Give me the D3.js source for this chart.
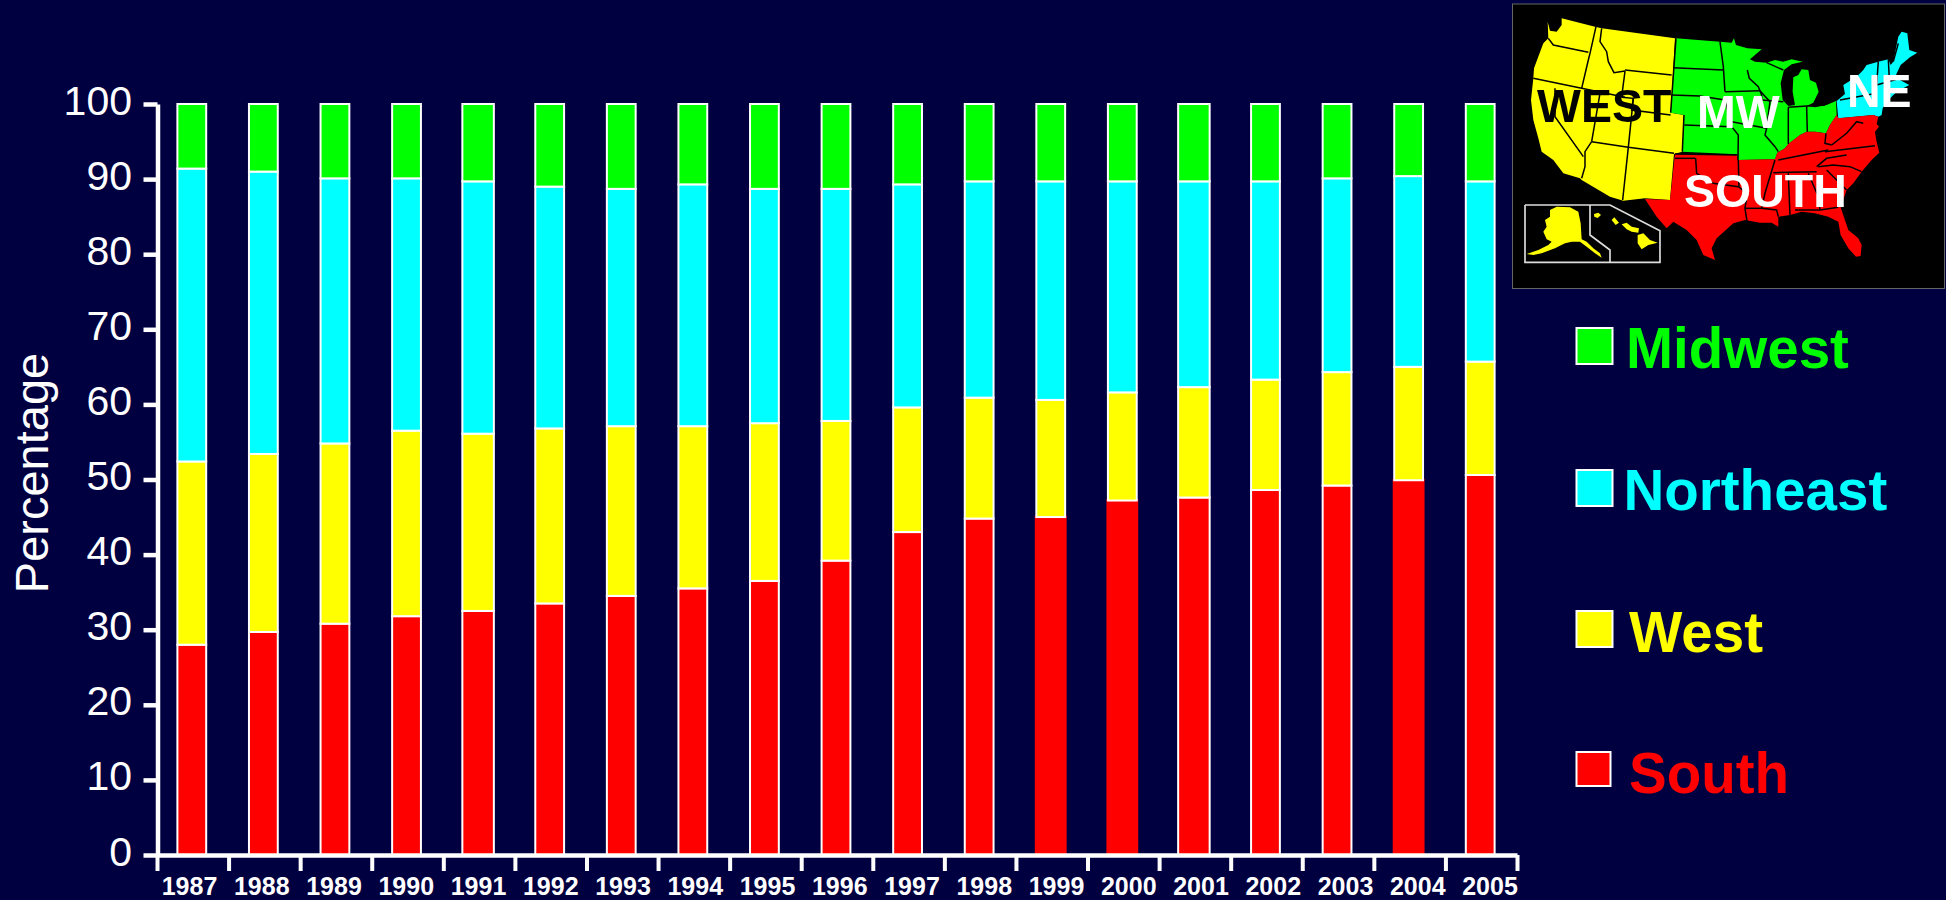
<!DOCTYPE html>
<html>
<head>
<meta charset="utf-8">
<style>
  body { margin: 0; background: #000040; }
  svg { display: block; }
  text { font-family: "Liberation Sans", Arial, sans-serif; }
</style>
<script src="https://cdnjs.cloudflare.com/ajax/libs/d3/7.8.5/d3.min.js"></script>
</head>
<body>
<div id="chart"></div>
<script>
// Values, percent per region
const years = ['1987','1988','1989','1990','1991','1992','1993','1994','1995','1996','1997','1998','1999','2000','2001','2002','2003','2004','2005'];
const south = [28.0,29.7,30.8,31.8,32.5,33.5,34.5,35.5,36.5,39.2,43.0,44.8,45.0,47.2,47.6,48.6,49.2,49.9,50.6];
const west = [24.4,23.7,24.0,24.7,23.6,23.3,22.6,21.6,21.0,18.6,16.6,16.1,15.6,14.4,14.7,14.7,15.1,15.1,15.1];
const northeast = [39.0,37.6,35.3,33.6,33.6,32.2,31.6,32.2,31.2,30.9,29.7,28.8,29.1,28.1,27.4,26.4,25.8,25.4,24.0];
const midwest = [8.6,9.0,9.9,9.9,10.3,11.0,11.3,10.7,11.3,11.3,10.7,10.3,10.3,10.3,10.3,10.3,9.9,9.6,10.3];
const yTicks = [0,10,20,30,40,50,60,70,80,90,100];

const seriesNames = ['South','West','Northeast','Midwest'];
const seriesColors = { South: '#ff0000', West: '#ffff00', Northeast: '#00ffff', Midwest: '#00ff00' };

// Oddities of the original slide
const noOutlineSouth = ['1999','2000','2004'];
const wideBars = ['1991','2001'];

// Map outlines (units are 1/3 px)
const mapWest = [[143,65],[150,92],[170,95],[185,75],[185,55],[285,80],[305,85],[525,115],[515,290],[512,338],[552,345],[547,455],[522,462],[510,600],[435,595],[370,602],[330,590],[245,540],[240,535],[190,520],[160,480],[125,455],[115,415],[100,360],[93,300],[100,235],[102,205],[130,130],[145,115]];
const mapMidwest = [[528,115],[660,125],[695,128],[702,115],[708,135],[742,145],[785,148],[750,178],[765,185],[800,188],[825,180],[850,185],[875,178],[908,185],[875,193],[852,210],[842,250],[848,300],[865,318],[885,315],[878,275],[880,232],[895,225],[905,208],[925,210],[930,240],[948,248],[956,275],[940,308],[920,318],[945,322],[980,315],[1008,303],[1010,345],[990,375],[978,400],[945,395],[920,395],[900,405],[865,432],[855,445],[832,458],[825,478],[714,480],[712,463],[547,455],[552,345],[512,338],[515,290]];
const mapNortheast = [[1195,110],[1205,95],[1222,100],[1228,150],[1252,158],[1230,172],[1202,195],[1188,225],[1200,240],[1228,255],[1190,275],[1160,305],[1148,325],[1145,345],[1135,350],[1120,345],[1015,355],[1010,303],[1035,282],[1030,255],[1070,230],[1090,210],[1100,195],[1135,185],[1165,178],[1172,195],[1180,185]];
const mapSouth = [[525,462],[712,465],[714,480],[825,478],[832,458],[855,445],[865,432],[900,405],[920,395],[945,395],[978,400],[990,375],[1010,345],[1015,355],[1120,345],[1135,350],[1130,372],[1137,380],[1125,395],[1130,425],[1138,458],[1115,480],[1085,515],[1060,550],[1040,570],[1022,622],[1045,690],[1075,715],[1085,735],[1082,768],[1068,770],[1045,745],[1022,705],[1015,665],[985,650],[945,640],[905,635],[870,645],[835,650],[835,680],[815,668],[780,668],[735,660],[700,670],[650,715],[635,745],[645,780],[610,765],[590,720],[560,690],[520,665],[500,685],[470,650],[435,597],[510,600]];
const mapAlaska = [[170,620],[210,622],[235,635],[242,670],[245,718],[260,725],[280,745],[300,760],[305,773],[285,760],[260,740],[240,725],[215,725],[195,730],[165,745],[125,760],[100,765],[80,762],[115,750],[145,735],[155,725],[140,718],[130,695],[140,680],[135,660],[150,650],[150,630]];
const mapHawaii = [
  [[282,642],[295,638],[303,645],[293,654],[283,650]],
  [[335,660],[343,652],[357,668],[347,675]],
  [[365,673],[380,668],[395,680],[417,685],[415,698],[395,695],[380,688]],
  [[413,705],[430,700],[450,720],[473,728],[445,735],[425,748],[413,730]]
];
const stateLines = [
  // west
  [[145,115],[160,135],[265,157]], [[288,80],[270,160],[265,180],[245,265]], [[100,235],[245,265],[375,292]],
  [[305,85],[300,125],[320,155],[325,185],[342,218],[375,213]], [[375,210],[515,225]], [[375,213],[365,292]],
  [[365,292],[400,295],[395,330],[512,345]], [[300,280],[275,425]], [[165,265],[165,350],[250,470]],
  [[275,425],[255,455],[255,500],[245,535]], [[275,425],[385,442],[522,460]], [[400,295],[385,442]], [[385,442],[368,600]],
  // midwest
  [[660,125],[670,200],[675,275]], [[520,203],[670,210]], [[515,285],[600,288],[675,300]], [[675,275],[780,272]],
  [[742,210],[748,235],[775,260],[785,285],[785,300]], [[695,365],[800,385]], [[780,272],[810,305],[800,385]],
  [[553,375],[695,380]], [[675,300],[695,380]], [[695,380],[715,405],[714,480]], [[800,385],[795,405],[825,440],[835,455]],
  [[785,300],[850,305]], [[865,322],[865,405],[865,432]], [[920,318],[922,395]], [[865,322],[920,318]], [[920,318],[975,315]],
  [[800,188],[850,210]], [[525,462],[712,465]], [[552,345],[547,455]], [[528,115],[512,338]],
  // northeast
  [[1180,185],[1195,130]], [[1165,178],[1168,235]], [[1135,185],[1130,255]], [[1130,255],[1190,238]], [[1020,300],[1130,280]],
  // south
  [[587,475],[590,520],[640,550],[715,560],[742,580]], [[525,475],[587,475]], [[715,480],[717,560]], [[742,580],[735,625],[742,670]],
  [[825,480],[795,580],[785,625]], [[735,625],[785,625]], [[785,625],[830,630],[835,650]], [[835,480],[985,450]], [[820,518],[950,515]],
  [[950,500],[980,475],[1040,465]], [[975,455],[1125,437]], [[978,400],[975,430],[995,435]], [[995,435],[1040,400],[1070,365],[1090,370]],
  [[865,520],[870,645]], [[925,520],[955,590],[960,630]], [[885,630],[960,630],[1015,622]], [[980,510],[1040,570]], [[955,500],[1000,495],[1050,500],[1085,515]]
];
const insetFrame = [[75,615],[330,615],[480,692],[480,787],[75,787],[75,615]];
const insetDivider = [[270,615],[270,705],[330,750],[330,787]];
const mapLabels = [
  { text: 'WEST', x: 1537, y: 122, color: '#000' },
  { text: 'MW', x: 1697, y: 128, color: '#fff' },
  { text: 'NE', x: 1847, y: 107, color: '#fff' },
  { text: 'SOUTH', x: 1684, y: 207, color: '#fff' }
];

const width = 1946, height = 900;
const svg = d3.select('#chart').append('svg').attr('width', width).attr('height', height);

// The map in the original is a small scaled bitmap, so soften it a little
svg.append('defs').append('filter')
  .attr('id', 'soft')
  .append('feGaussianBlur')
  .attr('stdDeviation', 0.5);

// Scales
const x = d3.scaleBand().domain(years).range([157, 1517]);
const xEdges = d3.scaleLinear().domain([0, years.length]).range([157, 1517]);
const xLabels = d3.scalePoint().domain(years).range([189, 1489.5]);
const y = d3.scaleLinear().domain([0, 100]).range([855, 104]);

// Stacked bars
const table = years.map((year, i) => ({
  year, South: south[i], West: west[i], Northeast: northeast[i], Midwest: midwest[i]
}));
const stacked = d3.stack().keys(seriesNames)(table);

const barWidth = (d) => (wideBars.includes(d.data.year) ? 31.5 : 28.8);

svg.selectAll('.series')
  .data(stacked)
  .enter()
  .append('g')
  .attr('class', 'series')
  .attr('fill', (s) => seriesColors[s.key])
  .each(function (s) {
    d3.select(this).selectAll('rect')
      .data(s)
      .enter()
      .append('rect')
      .attr('x', (d) => x(d.data.year) + x.bandwidth() / 2 - 1 - barWidth(d) / 2)
      .attr('width', barWidth)
      .attr('y', (d) => y(d[1]))
      .attr('height', (d) => y(d[0]) - y(d[1]))
      .attr('stroke', (d) => (s.key === 'South' && noOutlineSouth.includes(d.data.year) ? '#ff0000' : '#fff'))
      .attr('stroke-width', (d) => (s.key === 'South' && noOutlineSouth.includes(d.data.year) ? 3 : 2));
  });

// Y axis
const yAxis = svg.append('g')
  .attr('transform', 'translate(157.5,0)')
  .call(d3.axisLeft(y).tickValues(yTicks).tickSize(14).tickSizeOuter(0));
yAxis.select('.domain').attr('stroke', '#fff').attr('stroke-width', 4.5);
yAxis.selectAll('.tick line').attr('stroke', '#fff').attr('stroke-width', 4.5);
yAxis.selectAll('.tick text')
  .attr('x', -25.5)
  .attr('dy', 10)
  .attr('fill', '#fff')
  .style('font-size', '41px');

// X axis: ticks sit on the band edges, labels have their own spacing
const xAxis = svg.append('g')
  .attr('transform', 'translate(0,855)')
  .call(d3.axisBottom(xEdges).tickValues(d3.range(years.length + 1)).tickSize(16).tickSizeOuter(0).tickFormat(''));
xAxis.select('.domain').attr('stroke', '#fff').attr('stroke-width', 4.5);
xAxis.selectAll('.tick line').attr('stroke', '#fff').attr('stroke-width', 4);

const xText = svg.append('g')
  .attr('transform', 'translate(0,855)')
  .call(d3.axisBottom(xLabels).tickSize(0));
xText.select('.domain').remove();
xText.selectAll('.tick text')
  .attr('y', 40)
  .attr('dy', 0)
  .attr('fill', '#fff')
  .style('font-size', '25px')
  .style('font-weight', 'bold');

// Y axis title
svg.append('text')
  .attr('transform', 'translate(48,473) rotate(-90)')
  .attr('text-anchor', 'middle')
  .attr('fill', '#fff')
  .style('font-size', '47px')
  .text('Percentage');

// Legend, top to bottom
const legendRows = [
  { name: 'Midwest', boxY: 328, boxSize: 36, textX: 1626, textY: 368 },
  { name: 'Northeast', boxY: 470, boxSize: 36, textX: 1623.5, textY: 510 },
  { name: 'West', boxY: 611, boxSize: 36, textX: 1629, textY: 652 },
  { name: 'South', boxY: 752, boxSize: 34, textX: 1629, textY: 793 }
];
const legend = svg.selectAll('.legend').data(legendRows).enter().append('g').attr('class', 'legend');
legend.append('rect')
  .attr('x', 1576.5)
  .attr('y', (d) => d.boxY)
  .attr('width', (d) => d.boxSize)
  .attr('height', (d) => d.boxSize)
  .attr('fill', (d) => seriesColors[d.name])
  .attr('stroke', '#fff')
  .attr('stroke-width', 2);
legend.append('text')
  .attr('x', (d) => d.textX)
  .attr('y', (d) => d.textY)
  .attr('fill', (d) => seriesColors[d.name])
  .style('font-size', '56.5px')
  .style('font-weight', 'bold')
  .text((d) => d.name);

// Region map inset
svg.append('rect')
  .attr('x', 1512.5).attr('y', 4)
  .attr('width', 432).attr('height', 284.5)
  .attr('fill', '#000')
  .attr('stroke', '#666')
  .attr('stroke-width', 1);

const map = svg.append('g').attr('transform', 'translate(1500,0) scale(0.3333)').attr('filter', 'url(#soft)');
const outline = d3.line();
const lineClosed = (pts) => outline(pts) + 'Z';

[[mapWest, 'West'], [mapMidwest, 'Midwest'], [mapNortheast, 'Northeast'], [mapSouth, 'South']].forEach(([pts, name]) => {
  map.append('path').attr('d', lineClosed(pts)).attr('fill', seriesColors[name]);
});
map.selectAll('.state-line')
  .data(stateLines)
  .enter()
  .append('path')
  .attr('class', 'state-line')
  .attr('d', outline)
  .attr('fill', 'none')
  .attr('stroke', '#000')
  .attr('stroke-width', 4.5);

map.append('path').attr('d', lineClosed(mapAlaska)).attr('fill', seriesColors.West);
map.selectAll('.hawaii')
  .data(mapHawaii)
  .enter()
  .append('path')
  .attr('class', 'hawaii')
  .attr('d', lineClosed)
  .attr('fill', seriesColors.West);
[insetFrame, insetDivider].forEach((pts) => {
  map.append('path').attr('d', outline(pts)).attr('fill', 'none').attr('stroke', '#ddd').attr('stroke-width', 5);
});

svg.selectAll('.map-label')
  .data(mapLabels)
  .enter()
  .append('text')
  .attr('class', 'map-label')
  .attr('x', (d) => d.x)
  .attr('y', (d) => d.y)
  .attr('fill', (d) => d.color)
  .attr('filter', 'url(#soft)')
  .style('font-size', '46.5px')
  .style('font-weight', 'bold')
  .text((d) => d.text);
</script>
</body>
</html>
